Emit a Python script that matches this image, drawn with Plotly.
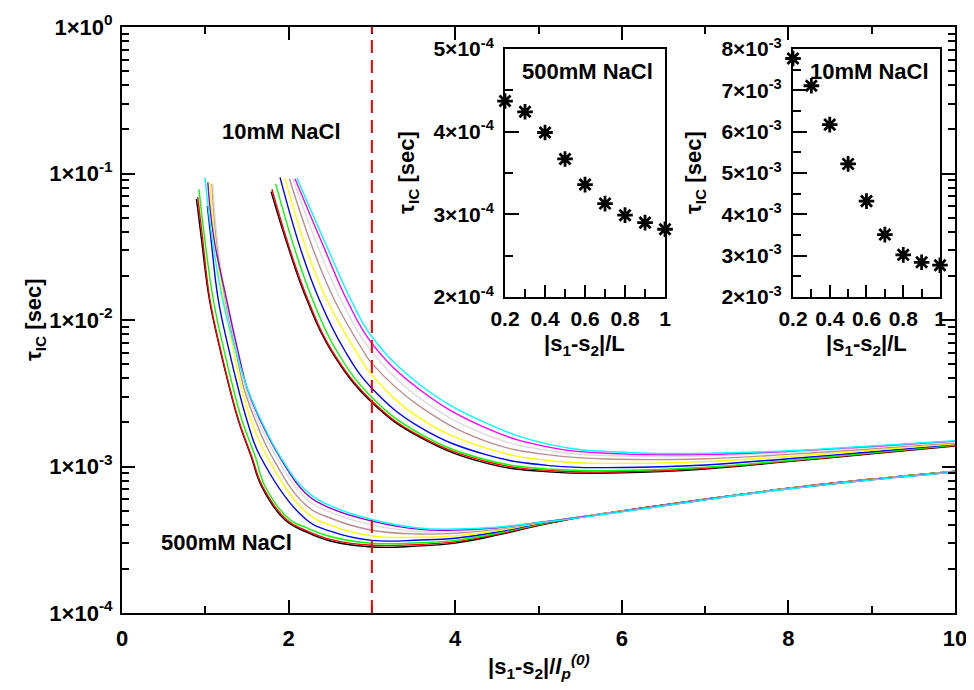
import plotly.graph_objects as go

# ---------------- data ----------------
# main plot: tau_IC vs |s1-s2|/lp(0); curves for |s1-s2|/L = 1.0 ... 0.2
S_LABELS = ["1.0", "0.9", "0.8", "0.7", "0.6", "0.5", "0.4", "0.3", "0.2"]
COLORS_500 = ["#000000", "#ff0000", "#00ff00", "#0000ff", "#ffff00",
              "#bc8f8f", "#dcdcdc", "#9400d3", "#00ffff"]
COLORS_10 = ["#000000", "#ff0000", "#00ff00", "#0000ff", "#ffff00",
             "#bc8f8f", "#dcdcdc", "#ff00ff", "#00ffff"]

# ---- 500 mM NaCl family ----
FLAT_X_500 = [2.2, 2.5, 3.0, 3.58, 4.0, 4.5, 5.0, 5.5, 6.0, 7.0, 8.0, 9.0, 10.0]

X500_BLACK = [0.894, 0.95, 1.05, 1.18, 1.297, 1.396, 1.55, 1.677, 1.957]
Y500_BLACK = [0.067, 0.037, 0.0137, 6.2e-3, 3.33e-3, 2.07e-3, 1.17e-3, 7.27e-4, 4.31e-4]
F500_BLACK = [3.6e-4, 3.1e-4, 2.82e-4, 2.87e-4, 3.0e-4, 3.4e-4, 3.95e-4, 4.5e-4, 4.97e-4, 5.98e-4, 7.1e-4, 8.2e-4, 9.3e-4]

X500_RED = [0.909, 0.965, 1.056, 1.185, 1.30, 1.40, 1.557, 1.69, 1.98]
Y500_RED = [0.069, 0.037, 0.0137, 6.2e-3, 3.33e-3, 2.07e-3, 1.17e-3, 7.27e-4, 4.31e-4]
F500_RED = [3.68e-4, 3.18e-4, 2.90e-4, 2.94e-4, 3.06e-4, 3.45e-4, 3.98e-4, 4.5e-4, 4.97e-4, 5.98e-4, 7.1e-4, 8.2e-4, 9.3e-4]

X500_GREEN = [0.924, 0.99, 1.096, 1.225, 1.34, 1.44, 1.60, 1.72, 2.02]
Y500_GREEN = [0.078, 0.037, 0.0137, 6.2e-3, 3.33e-3, 2.07e-3, 1.17e-3, 7.27e-4, 4.31e-4]
F500_GREEN = [3.85e-4, 3.33e-4, 2.99e-4, 3.02e-4, 3.13e-4, 3.5e-4, 4.02e-4, 4.51e-4, 4.96e-4, 5.97e-4, 7.09e-4, 8.18e-4, 9.28e-4]

X500_BLUE = [1.024, 1.07, 1.156, 1.285, 1.40, 1.50, 1.66]
Y500_BLUE = [0.060, 0.035, 0.0137, 6.2e-3, 3.33e-3, 2.07e-3, 1.17e-3]
F500_BLUE = [4.4e-4, 3.62e-4, 3.13e-4, 3.15e-4, 3.24e-4, 3.57e-4, 4.06e-4, 4.52e-4, 4.96e-4, 5.96e-4, 7.08e-4, 8.17e-4, 9.26e-4]

X500_YELLOW = [1.056, 1.11, 1.22, 1.34, 1.44, 1.55, 1.74]
Y500_YELLOW = [0.087, 0.037, 0.0137, 6.2e-3, 3.33e-3, 2.07e-3, 1.17e-3]
F500_YELLOW = [4.95e-4, 3.98e-4, 3.36e-4, 3.29e-4, 3.36e-4, 3.64e-4, 4.09e-4, 4.52e-4, 4.95e-4, 5.95e-4, 7.07e-4, 8.16e-4, 9.24e-4]

X500_BROWN = [1.08, 1.13, 1.24, 1.365, 1.47, 1.60, 1.80]
Y500_BROWN = [0.085, 0.037, 0.0137, 6.2e-3, 3.33e-3, 2.07e-3, 1.17e-3]
F500_BROWN = [5.5e-4, 4.45e-4, 3.67e-4, 3.46e-4, 3.5e-4, 3.72e-4, 4.12e-4, 4.52e-4, 4.94e-4, 5.95e-4, 7.06e-4, 8.15e-4, 9.22e-4]

X500_GRAY = [1.09, 1.14, 1.25, 1.38, 1.49, 1.63, 1.85]
Y500_GRAY = [0.085, 0.037, 0.0137, 6.2e-3, 3.33e-3, 2.07e-3, 1.17e-3]
F500_GRAY = [6.1e-4, 4.88e-4, 3.99e-4, 3.59e-4, 3.6e-4, 3.78e-4, 4.14e-4, 4.51e-4, 4.93e-4, 5.94e-4, 7.05e-4, 8.13e-4, 9.2e-4]

X500_VIOLET = [1.03, 1.10, 1.257, 1.39, 1.51, 1.66, 1.89]
Y500_VIOLET = [0.087, 0.037, 0.0137, 6.2e-3, 3.33e-3, 2.07e-3, 1.17e-3]
F500_VIOLET = [6.6e-4, 5.2e-4, 4.24e-4, 3.72e-4, 3.68e-4, 3.82e-4, 4.15e-4, 4.5e-4, 4.92e-4, 5.93e-4, 7.04e-4, 8.12e-4, 9.18e-4]

X500_CYAN = [0.996, 1.08, 1.209, 1.36, 1.513, 1.67, 1.90]
Y500_CYAN = [0.094, 0.037, 0.0137, 6.3e-3, 3.33e-3, 2.07e-3, 1.17e-3]
F500_CYAN = [6.9e-4, 5.4e-4, 4.35e-4, 3.79e-4, 3.74e-4, 3.85e-4, 4.14e-4, 4.48e-4, 4.9e-4, 5.92e-4, 7.02e-4, 8.1e-4, 9.15e-4]

# ---- 10 mM NaCl family ----
FLAT_X_10 = [3.0, 3.58, 4.38, 5.17, 6.0, 7.0, 8.0, 9.0, 10.0]

X10_BLACK = [1.79, 2.005, 2.22, 2.505]
Y10_BLACK = [0.075, 0.0301, 0.0137, 6.24e-3]
F10_BLACK = [2.73e-3, 1.58e-3, 1.05e-3, 9.16e-4, 9.05e-4, 9.6e-4, 1.08e-3, 1.22e-3, 1.38e-3]

X10_RED = [1.80, 2.017, 2.233, 2.517]
Y10_RED = [0.078, 0.0301, 0.0137, 6.24e-3]
F10_RED = [2.80e-3, 1.61e-3, 1.078e-3, 9.35e-4, 9.2e-4, 9.72e-4, 1.09e-3, 1.23e-3, 1.39e-3]

X10_GREEN = [1.845, 2.077, 2.29, 2.57]
Y10_GREEN = [0.085, 0.0301, 0.0137, 6.24e-3]
F10_GREEN = [2.96e-3, 1.67e-3, 1.107e-3, 9.57e-4, 9.4e-4, 9.88e-4, 1.10e-3, 1.24e-3, 1.40e-3]

X10_BLUE = [1.897, 2.147, 2.37, 2.67]
Y10_BLUE = [0.094, 0.0301, 0.0137, 6.24e-3]
F10_BLUE = [3.42e-3, 1.85e-3, 1.20e-3, 1.01e-3, 9.85e-4, 1.025e-3, 1.13e-3, 1.26e-3, 1.415e-3]

X10_YELLOW = [1.957, 2.217, 2.46, 2.80]
Y10_YELLOW = [0.093, 0.0301, 0.0137, 6.24e-3]
F10_YELLOW = [4.22e-3, 2.13e-3, 1.33e-3, 1.09e-3, 1.05e-3, 1.08e-3, 1.17e-3, 1.29e-3, 1.43e-3]

X10_BROWN = [2.01, 2.297, 2.55, 2.89]
Y10_BROWN = [0.092, 0.0301, 0.0137, 6.24e-3]
F10_BROWN = [5.06e-3, 2.56e-3, 1.48e-3, 1.19e-3, 1.12e-3, 1.13e-3, 1.21e-3, 1.32e-3, 1.45e-3]

X10_GRAY = [2.05, 2.367, 2.63]
Y10_GRAY = [0.092, 0.0301, 0.0137]
F10_GRAY = [6.08e-3, 2.92e-3, 1.64e-3, 1.27e-3, 1.18e-3, 1.18e-3, 1.245e-3, 1.35e-3, 1.47e-3]

X10_MAGENTA = [2.077, 2.437, 2.70]
Y10_MAGENTA = [0.092, 0.0301, 0.0137]
F10_MAGENTA = [6.93e-3, 3.33e-3, 1.82e-3, 1.34e-3, 1.22e-3, 1.21e-3, 1.27e-3, 1.37e-3, 1.49e-3]

X10_CYAN = [2.10, 2.477, 2.75]
Y10_CYAN = [0.093, 0.0301, 0.0137]
F10_CYAN = [7.69e-3, 3.60e-3, 1.97e-3, 1.40e-3, 1.25e-3, 1.23e-3, 1.28e-3, 1.38e-3, 1.50e-3]

DASH_X = 3.0

# insets
INSET_X = [0.2, 0.3, 0.4, 0.5, 0.6, 0.7, 0.8, 0.9, 1.0]
INSET_500 = [4.37e-4, 4.24e-4, 3.99e-4, 3.67e-4, 3.36e-4, 3.13e-4, 2.99e-4, 2.90e-4, 2.82e-4]
INSET_10 = [7.77e-3, 7.11e-3, 6.17e-3, 5.22e-3, 4.32e-3, 3.51e-3, 3.02e-3, 2.84e-3, 2.77e-3]

MAIN_XTICKS = [0, 2, 4, 6, 8, 10]
MAIN_XTEXT = ["0", "2", "4", "6", "8", "10"]
MAIN_YTICKS = [1e-4, 1e-3, 1e-2, 1e-1, 1.0]
MAIN_YTEXT = ["1×10<sup>-4</sup>", "1×10<sup>-3</sup>", "1×10<sup>-2</sup>",
              "1×10<sup>-1</sup>", "1×10<sup>0</sup>"]
INSET1_YTICKS = [2e-4, 3e-4, 4e-4, 5e-4]
INSET1_YTEXT = ["2×10<sup>-4</sup>", "3×10<sup>-4</sup>", "4×10<sup>-4</sup>", "5×10<sup>-4</sup>"]
INSET2_YTICKS = [2e-3, 3e-3, 4e-3, 5e-3, 6e-3, 7e-3, 8e-3]
INSET2_YTEXT = ["2×10<sup>-3</sup>", "3×10<sup>-3</sup>", "4×10<sup>-3</sup>", "5×10<sup>-3</sup>",
                "6×10<sup>-3</sup>", "7×10<sup>-3</sup>", "8×10<sup>-3</sup>"]
INSET_XTICKS = [0.2, 0.4, 0.6, 0.8, 1.0]
INSET_XTEXT = ["0.2", "0.4", "0.6", "0.8", "1"]


def bold(labels):
    return ["<b>" + t + "</b>" for t in labels]


# ---------------- build figure ----------------
FONT = "Liberation Sans"

curves_500 = [
    (X500_BLACK, Y500_BLACK, F500_BLACK), (X500_RED, Y500_RED, F500_RED),
    (X500_GREEN, Y500_GREEN, F500_GREEN), (X500_BLUE, Y500_BLUE, F500_BLUE),
    (X500_YELLOW, Y500_YELLOW, F500_YELLOW), (X500_BROWN, Y500_BROWN, F500_BROWN),
    (X500_GRAY, Y500_GRAY, F500_GRAY), (X500_VIOLET, Y500_VIOLET, F500_VIOLET),
    (X500_CYAN, Y500_CYAN, F500_CYAN),
]
curves_10 = [
    (X10_BLACK, Y10_BLACK, F10_BLACK), (X10_RED, Y10_RED, F10_RED),
    (X10_GREEN, Y10_GREEN, F10_GREEN), (X10_BLUE, Y10_BLUE, F10_BLUE),
    (X10_YELLOW, Y10_YELLOW, F10_YELLOW), (X10_BROWN, Y10_BROWN, F10_BROWN),
    (X10_GRAY, Y10_GRAY, F10_GRAY), (X10_MAGENTA, Y10_MAGENTA, F10_MAGENTA),
    (X10_CYAN, Y10_CYAN, F10_CYAN),
]

fig = go.Figure()

for (xs, ys, fv), col, s in zip(curves_10, COLORS_10, S_LABELS):
    fig.add_trace(go.Scatter(x=xs + FLAT_X_10, y=ys + fv, mode="lines",
                             line=dict(color=col, width=1.4, shape="spline", smoothing=1.2),
                             name="10mM " + s, showlegend=False, xaxis="x", yaxis="y"))
for (xs, ys, fv), col, s in zip(curves_500, COLORS_500, S_LABELS):
    fig.add_trace(go.Scatter(x=xs + FLAT_X_500, y=ys + fv, mode="lines",
                             line=dict(color=col, width=1.4, shape="spline", smoothing=1.2),
                             name="500mM " + s, showlegend=False, xaxis="x", yaxis="y"))

star = dict(symbol="asterisk-open", size=13, color="black", line=dict(color="black", width=2.8))
fig.add_trace(go.Scatter(x=INSET_X, y=INSET_500, mode="markers", marker=star,
                         xaxis="x2", yaxis="y2", showlegend=False, cliponaxis=False))
fig.add_trace(go.Scatter(x=INSET_X, y=INSET_10, mode="markers", marker=star,
                         xaxis="x3", yaxis="y3", showlegend=False, cliponaxis=False))

fig.add_shape(type="line", xref="x", yref="paper", x0=DASH_X, x1=DASH_X, y0=0, y1=1,
              line=dict(color="#ff0000", width=2, dash="13px,7px"))

tickfont = dict(family=FONT, size=22, color="black")
inset_tickfont = dict(family=FONT, size=21, color="black")

axis_common = dict(showline=True, linecolor="black", showgrid=False, zeroline=False,
                   ticks="inside", tickcolor="black", automargin=False, tickmode="array")

minor_y_main = [m * 10.0 ** e for e in range(-4, 0) for m in range(2, 10)]

# the page body adds an 8px offset, so the figure is 8px smaller than the window
fig.update_layout(
    width=966, height=682,
    margin=dict(l=114, r=19, t=19, b=77, autoexpand=False),
    plot_bgcolor="white", paper_bgcolor="white",
    font=dict(family=FONT, color="black", size=20),
    xaxis=dict(domain=[0, 1], range=[0, 10], tickvals=MAIN_XTICKS, ticktext=bold(MAIN_XTEXT),
               ticklen=13, tickwidth=2, linewidth=2, mirror="allticks",
               minor=dict(tickmode="array", tickvals=[1, 3, 5, 7, 9], ticks="inside",
                          ticklen=7, tickwidth=2, tickcolor="black"),
               tickfont=tickfont, ticklabelstandoff=5, ticklabeloverflow="allow", **axis_common),
    yaxis=dict(domain=[0, 1], type="log", range=[-4, 0], tickvals=MAIN_YTICKS,
               ticktext=bold(MAIN_YTEXT), ticklen=13, tickwidth=2, linewidth=2, mirror="allticks",
               minor=dict(tickmode="array", tickvals=minor_y_main, ticks="inside",
                          ticklen=7, tickwidth=1.5, tickcolor="black"),
               tickfont=tickfont, ticklabelstandoff=3, ticklabeloverflow="allow", **axis_common),
    xaxis2=dict(domain=[0.4598, 0.6519], anchor="y2", range=[0.2, 1.0],
                tickvals=INSET_XTICKS, ticktext=bold(INSET_XTEXT), ticklen=12, tickwidth=2,
                linewidth=2, mirror=True,
                minor=dict(tickmode="array", tickvals=[0.3, 0.5, 0.7, 0.9], ticks="inside",
                           ticklen=8, tickwidth=2, tickcolor="black"),
                tickfont=inset_tickfont, ticklabelstandoff=2, **axis_common),
    yaxis2=dict(domain=[0.5392, 0.9625], anchor="x2", range=[2e-4, 5e-4],
                tickvals=INSET1_YTICKS, ticktext=bold(INSET1_YTEXT), ticklen=14, tickwidth=2,
                linewidth=2, mirror=True,
                minor=dict(tickmode="array", tickvals=[2.5e-4, 3.5e-4, 4.5e-4], ticks="inside",
                           ticklen=8, tickwidth=2, tickcolor="black"),
                tickfont=inset_tickfont, ticklabelstandoff=5, **axis_common),
    xaxis3=dict(domain=[0.8055, 0.982], anchor="y3", range=[0.2, 1.0],
                tickvals=INSET_XTICKS, ticktext=bold(INSET_XTEXT), ticklen=12, tickwidth=2,
                linewidth=2, mirror=True,
                minor=dict(tickmode="array", tickvals=[0.3, 0.5, 0.7, 0.9], ticks="inside",
                           ticklen=8, tickwidth=2, tickcolor="black"),
                tickfont=inset_tickfont, ticklabelstandoff=2, **axis_common),
    yaxis3=dict(domain=[0.5392, 0.9625], anchor="x3", range=[2e-3, 8e-3],
                tickvals=INSET2_YTICKS, ticktext=bold(INSET2_YTEXT), ticklen=14, tickwidth=2,
                linewidth=2, mirror=True,
                minor=dict(tickmode="array", tickvals=[2.5e-3, 3.5e-3, 4.5e-3, 5.5e-3, 6.5e-3, 7.5e-3],
                           ticks="inside", ticklen=8, tickwidth=2, tickcolor="black"),
                tickfont=inset_tickfont, ticklabelstandoff=5, **axis_common),
)

label_font = dict(family=FONT, size=22, color="black")
title_font = dict(family=FONT, size=22, color="black")
annotations = [
    dict(text="<b>10mM NaCl</b>", x=0.192, y=0.8225, font=label_font),
    dict(text="<b>500mM NaCl</b>", x=0.1249, y=0.1195, font=label_font),
    dict(text="<b>500mM NaCl</b>", x=0.5588, y=0.9237, font=label_font),
    dict(text="<b>10mM NaCl</b>", x=0.8968, y=0.9237, font=label_font),
    dict(text="<b>τ<sub>IC</sub> [sec]</b>", x=-0.1044, y=0.5, textangle=-90, font=title_font),
    dict(text="<b>|s<sub>1</sub>-s<sub>2</sub>|/<i>l</i><sub><i>p</i></sub><sup><i>(0)</i></sup></b>",
         x=0.5, y=-0.092, font=title_font),
    dict(text="<b>τ<sub>IC</sub> [sec]</b>", x=0.3433, y=0.7526, textangle=-90, font=title_font),
    dict(text="<b>τ<sub>IC</sub> [sec]</b>", x=0.6879, y=0.7509, textangle=-90, font=title_font),
    dict(text="<b>|s<sub>1</sub>-s<sub>2</sub>|/L</b>", x=0.5558, y=0.457, font=title_font),
    dict(text="<b>|s<sub>1</sub>-s<sub>2</sub>|/L</b>", x=0.8932, y=0.457, font=title_font),
]
for a in annotations:
    a.update(xref="paper", yref="paper", showarrow=False, xanchor="center", yanchor="middle")
    fig.add_annotation(**a)

fig.write_html("out.html")
